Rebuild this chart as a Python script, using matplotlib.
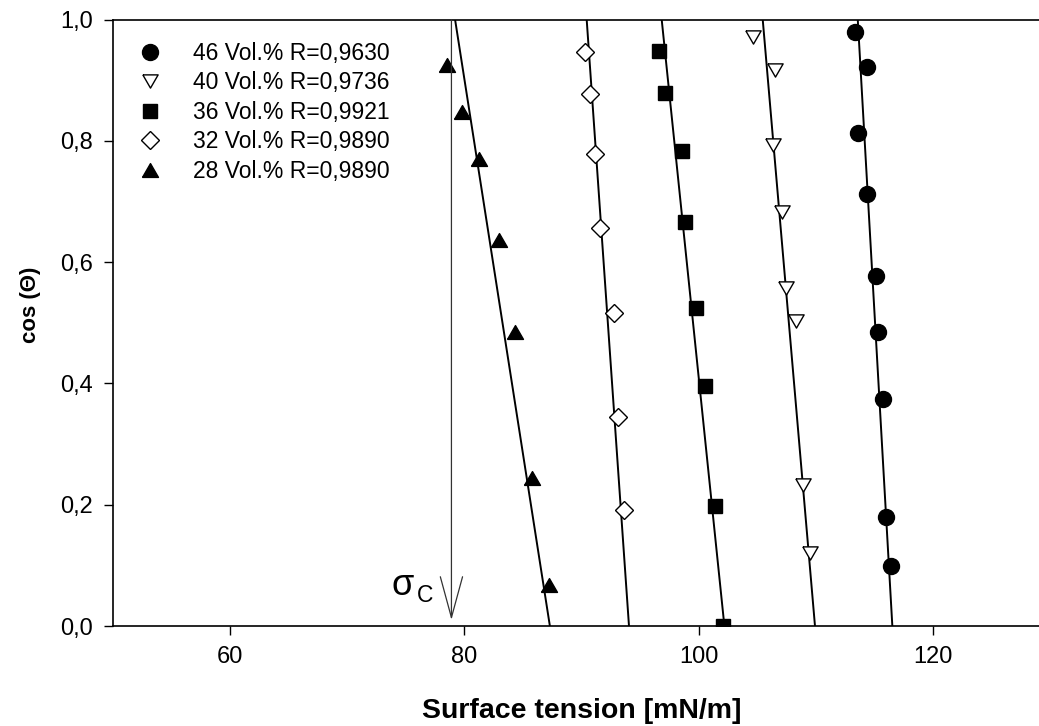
import matplotlib
matplotlib.use("Agg")
import matplotlib.pyplot as plt
import numpy as np

plt.rcParams["font.family"] = ["Liberation Sans", "DejaVu Sans"]

# measured points, cos(theta) vs surface tension
x46 = [113.3, 114.35, 113.6, 114.4, 115.15, 115.3, 115.7, 116.0, 116.4]
y46 = [0.980, 0.921, 0.813, 0.712, 0.577, 0.484, 0.374, 0.179, 0.099]
x40 = [104.6, 106.5, 106.3, 107.1, 107.45, 108.3, 108.9, 109.5]
y40 = [0.972, 0.917, 0.793, 0.682, 0.558, 0.503, 0.233, 0.120]
x36 = [96.6, 97.1, 98.55, 98.85, 99.75, 100.55, 101.35, 102.1]
y36 = [0.948, 0.879, 0.783, 0.666, 0.524, 0.396, 0.198, 0.0]
x32 = [90.3, 90.75, 91.15, 91.6, 92.8, 93.1, 93.65]
y32 = [0.947, 0.877, 0.779, 0.657, 0.516, 0.345, 0.192]
x28 = [78.55, 79.8, 81.25, 82.95, 84.3, 85.75, 87.25]
y28 = [0.925, 0.848, 0.770, 0.636, 0.485, 0.244, 0.068]

labels = ["46 Vol.% R=0,9630", "40 Vol.% R=0,9736", "36 Vol.% R=0,9921",
          "32 Vol.% R=0,9890", "28 Vol.% R=0,9890"]

# regression lines: surface tension at cos = 0 and cos = 1
fit_x_at_0 = [116.52, 109.92, 102.19, 94.05, 87.3]
fit_x_at_1 = [113.57, 105.46, 96.84, 90.44, 79.21]

sigma_c = 78.9

xticks = [60, 80, 100, 120]
yticks = [0.0, 0.2, 0.4, 0.6, 0.8, 1.0]

# closed equilateral triangles
tri_up = [(-1, -0.866), (1, -0.866), (0, 0.866), (-1, -0.866)]
tri_down = [(-1, 0.866), (1, 0.866), (0, -0.866), (-1, 0.866)]

styles = [
    dict(marker="o", ms=11.5, mfc="black", mec="black"),
    dict(marker=tri_down, ms=11, mfc="white", mec="black", mew=1.0),
    dict(marker="s", ms=10, mfc="black", mec="black"),
    dict(marker="D", ms=9.5, mfc="white", mec="black", mew=1.0),
    dict(marker=tri_up, ms=11.5, mfc="black", mec="black"),
]

fig = plt.figure(figsize=(10.39, 7.26), dpi=100)
ax = fig.add_axes([0.1085, 0.1377, 0.9024, 0.8354])

series = [(x46, y46), (x40, y40), (x36, y36), (x32, y32), (x28, y28)]
for (xs, ys), lab, st, x0, x1 in zip(series, labels, styles, fit_x_at_0, fit_x_at_1):
    ax.plot([x0, x1], [0, 1], color="black", lw=1.4, zorder=2)
    ax.plot(xs, ys, ls="none", label=lab, zorder=3, **st)

# critical surface tension arrow
ax.annotate("", xy=(sigma_c, 0.01), xytext=(sigma_c, 1.0),
            arrowprops=dict(arrowstyle="->,head_length=1.47,head_width=0.4",
                            color="#333333", lw=0.9, shrinkA=0, shrinkB=0,
                            mutation_scale=20))
ax.text(73.8, 0.051, "σ", fontsize=26, ha="left", va="baseline")
ax.text(75.95, 0.040, "C", fontsize=16.5, ha="left", va="baseline")

ax.set_xlim(50, 130)
ax.set_ylim(0, 1)
ax.set_xticks(xticks)
ax.set_yticks(yticks)
ax.set_yticklabels([f"{v:.1f}".replace(".", ",") for v in yticks])
ax.tick_params(direction="out", length=6.5, width=1.0, labelsize=17, pad=8)
for s in ax.spines.values():
    s.set_linewidth(1.2)
ax.spines["right"].set_visible(False)

ax.set_xlabel("Surface tension [mN/m]", fontsize=20.5, fontweight="bold")
ax.xaxis.set_label_coords(0.5, -0.118)
ax.set_ylabel("cos (Θ)", fontsize=16, fontweight="bold")
ax.yaxis.set_label_coords(-0.076, 0.529)

ax.legend(loc="upper left", frameon=False, fontsize=16.5, handletextpad=1.1,
          labelspacing=0.28, borderaxespad=0.0, handlelength=1.5,
          bbox_to_anchor=(0.012, 0.978))

fig.savefig("out.png", dpi=100)
